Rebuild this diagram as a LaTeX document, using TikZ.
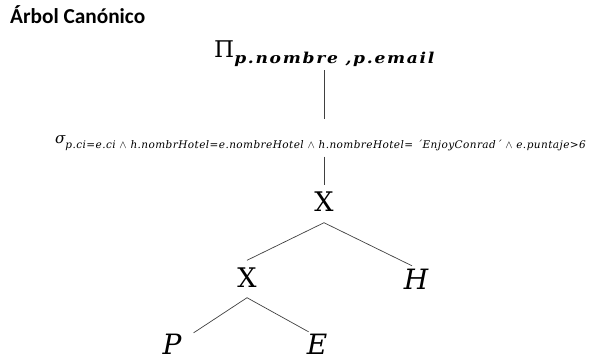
\documentclass[tikz,border=0pt]{standalone}
\usepackage{fontspec}
\setmainfont{DejaVu Serif}
\newfontfamily\titlefont{Carlito}
\newfontfamily\subfont[LetterSpace=10]{DejaVu Serif}
\newfontfamily\condfont[LetterSpace=4]{DejaVu Serif}
\usetikzlibrary{positioning,calc}
\tikzset{
  edge/.style={draw=black!75, line width=0.7pt},
  opx/.style={font=\fontsize{27}{27}\selectfont, inner sep=0pt, text height=19pt, text depth=0pt},
  rel/.style={font=\fontsize{28}{28}\selectfont\itshape, inner sep=0pt, text height=20pt, text depth=0pt}
}

\begin{document}
\begin{tikzpicture}[x=1pt, y=1pt]
  \useasboundingbox (0,0) rectangle (591,-360);

  % title
  \node[anchor=base west, inner sep=0pt, font=\titlefont\bfseries\fontsize{21.3}{21.3}\selectfont] (title) at (10,-23) {Árbol Canónico};

  % projection and selection
  \node[anchor=base west, inner sep=0pt] (proj) at (214,-57)
    {{\fontsize{23}{23}\selectfont Π}\raisebox{-6pt}{\scalebox{1.14}[1]{\subfont\bfseries\itshape\fontsize{15}{15}\selectfont p.nombre ,p.email}}};
  \node[anchor=base west, inner sep=0pt] (sel) at (55,-143)
    {{\fontsize{15}{15}\selectfont\itshape σ}\raisebox{-5pt}{\condfont\itshape\fontsize{10.5}{10.5}\selectfont p.ci=e.ci $\wedge$ h.nombrHotel=e.nombreHotel $\wedge$ h.nombreHotel= ´EnjoyConrad´ $\wedge$ e.puntaje>6}};

  % products and relations
  \node[opx] (prod1) at (324,-202) {X};
  \node[opx] (prod2) at (247,-278) {X};
  \node[rel] (hotel) at (416,-279) {H};
  \node[rel] (pers) at (172,-344) {P};
  \node[rel] (est) at (317,-344) {E};

  \draw[edge] ([yshift=-4pt]proj.south -| prod1) -- ([yshift=16pt]sel.north -| prod1);
  \draw[edge] ([yshift=-6pt]sel.south -| prod1) -- ([yshift=7pt]prod1.north);
  \draw[edge] ([yshift=-11pt]prod1.south) -- ([yshift=8pt]prod2.north);
  \draw[edge] ([yshift=-11pt]prod1.south) -- ($(hotel.north)+(-4,3)$);
  \draw[edge] ([yshift=-10pt]prod2.south) -- ($(pers.north east)+(12,1)$);
  \draw[edge] ([yshift=-10pt]prod2.south) -- ($(est.north west)+(2,2)$);
\end{tikzpicture}
\end{document}
